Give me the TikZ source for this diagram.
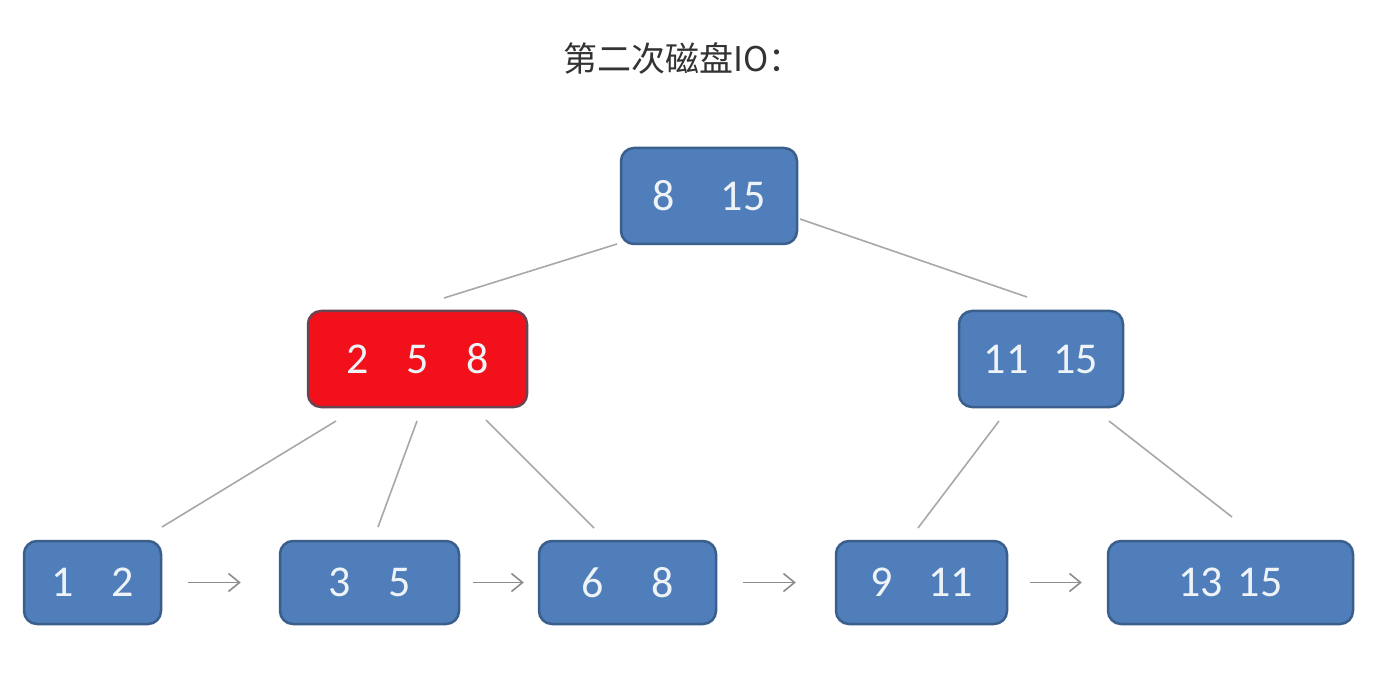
\documentclass[tikz,border=0pt]{standalone}
\usepackage{fontspec}
\setmainfont{Carlito}
\newfontfamily\cjk{Noto Sans CJK SC}
\usetikzlibrary{arrows.meta}
\definecolor{bfill}{HTML}{4F7EBA}
\definecolor{bdraw}{HTML}{3A5F8C}
\definecolor{rfill}{HTML}{F2101A}
\definecolor{rdraw}{HTML}{6A4450}
\definecolor{txt}{HTML}{EEF3F8}
\definecolor{ln}{HTML}{A8A8A8}
\definecolor{ar}{HTML}{8C8C8C}
\definecolor{title}{HTML}{333333}
\tikzset{
  bnode/.style={draw=bdraw, fill=bfill, line width=2.5pt, rounded corners=13pt,
    text=txt, font=\fontsize{44}{44}\selectfont, inner sep=0pt, anchor=center},
  rnode/.style={bnode, draw=rdraw, fill=rfill},
  edge/.style={draw=ln, line width=1.6pt},
  nextarrow/.style={draw=ar, line width=1.6pt, -{Straight Barb[length=11pt,width=18pt,line width=1.6pt]}}
}
\begin{document}
\begin{tikzpicture}[x=1pt,y=-1pt]
\useasboundingbox[fill=white] (0,0) rectangle (1386,692);
\node[text=title, font=\cjk\fontsize{34}{34}\selectfont] (title) at (683,58) {第二次磁盘IO：};
% nodes
\node[bnode, minimum width=176pt, minimum height=96pt] (top) at (709,196) {8\hspace{46pt}15};
\node[rnode, minimum width=219pt, minimum height=96pt] (red) at (417.5,359) {2\hspace{38pt}5\hspace{38pt}8};
\node[bnode, minimum width=164pt, minimum height=96pt] (right) at (1041,359) {11\hspace{25pt}15};
\node[bnode, minimum width=137pt, minimum height=83pt] (l1) at (92.5,582.5) {1\hspace{38pt}2};
\node[bnode, minimum width=179pt, minimum height=83pt] (l2) at (369.5,582.5) {3\hspace{38pt}5};
\node[bnode, minimum width=177pt, minimum height=83pt] (l3) at (627.5,582.5) {6\hspace{47pt}8};
\node[bnode, minimum width=171pt, minimum height=83pt] (l4) at (921.5,582.5) {9\hspace{36pt}11};
\node[bnode, minimum width=245pt, minimum height=83pt] (l5) at (1230.5,582.5) {13\hspace{15pt}15};
% connector endpoints
\coordinate (t1) at (617,244); \coordinate (r0) at (444,298);
\coordinate (t2) at (800,219); \coordinate (q0) at (1027,297);
\coordinate (r1) at (336,421); \coordinate (a1) at (162,527);
\coordinate (r2) at (417,421); \coordinate (a2) at (378,527);
\coordinate (r3) at (486,420); \coordinate (a3) at (594,528);
\coordinate (q1) at (999,421); \coordinate (a4) at (918,528);
\coordinate (q2) at (1109,421); \coordinate (a5) at (1232,517);
\draw[edge] (t1) -- (r0);
\draw[edge] (t2) -- (q0);
\draw[edge] (r1) -- (a1);
\draw[edge] (r2) -- (a2);
\draw[edge] (r3) -- (a3);
\draw[edge] (q1) -- (a4);
\draw[edge] (q2) -- (a5);
% leaf links
\draw[nextarrow] ([xshift=26pt]l1.east |- l1.center) -- ([xshift=-38pt]l2.west |- l2.center);
\draw[nextarrow] ([xshift=13pt]l2.east |- l2.center) -- ([xshift=-14pt]l3.west |- l3.center);
\draw[nextarrow] ([xshift=26pt]l3.east |- l3.center) -- ([xshift=-39pt]l4.west |- l4.center);
\draw[nextarrow] ([xshift=22pt]l4.east |- l4.center) -- ([xshift=-25pt]l5.west |- l5.center);
\end{tikzpicture}
\end{document}
